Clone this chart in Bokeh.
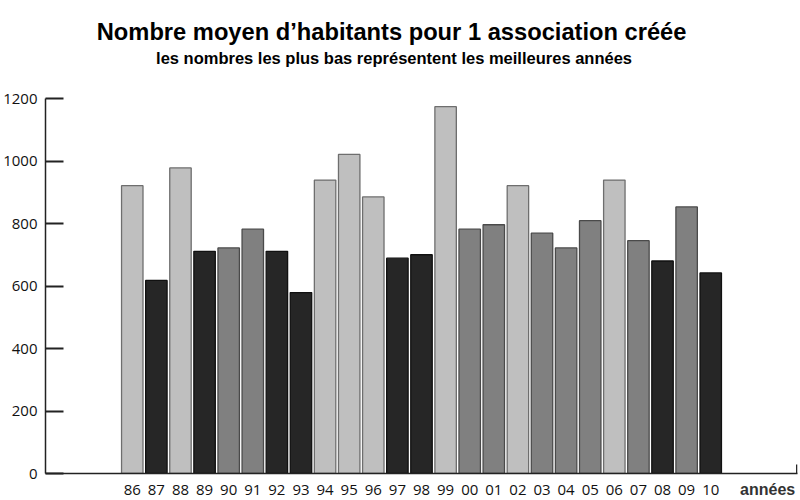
from bokeh.plotting import figure
from bokeh.models import Range1d, FactorRange, FixedTicker, Label, ColumnDataSource
from bokeh.transform import factor_cmap
from bokeh.embed import file_html
from bokeh.resources import INLINE

# ---- data ----
annees = ["86", "87", "88", "89", "90", "91", "92", "93", "94", "95", "96", "97", "98",
          "99", "00", "01", "02", "03", "04", "05", "06", "07", "08", "09", "10"]
habitants = [921, 618, 978, 711, 722, 782, 711, 579, 939, 1021, 885, 689, 700,
             1174, 782, 796, 921, 769, 722, 809, 939, 745, 680, 853, 642]
niveau = ["haut", "bas", "haut", "bas", "moyen", "moyen", "bas", "bas", "haut", "haut",
          "haut", "bas", "bas", "haut", "moyen", "moyen", "haut", "moyen", "moyen",
          "moyen", "haut", "moyen", "bas", "moyen", "bas"]
y_ticks = [0, 200, 400, 600, 800, 1000, 1200]

titre = "Nombre moyen d\u2019habitants pour 1 association créée"
sous_titre = "les nombres les plus bas représentent les meilleures années"
titre_x = "années"

PAD = 3.1

src = ColumnDataSource(dict(annee=annees, val=habitants, niveau=niveau))

p = figure(width=800, height=500, output_backend="svg", toolbar_location=None,
           x_range=FactorRange(factors=annees, range_padding=PAD, range_padding_units="absolute"),
           y_range=Range1d(0, 1200),
           min_border_left=45, min_border_right=3, min_border_top=98, min_border_bottom=27)
p.title = None
p.outline_line_color = None
p.xgrid.grid_line_color = None
p.ygrid.grid_line_color = None
p.background_fill_color = "white"

p.vbar(x="annee", top="val", width=0.89, source=src,
       fill_color=factor_cmap("niveau", ["#bfbfbf", "#808080", "#262626"], ["haut", "moyen", "bas"]),
       line_color=factor_cmap("niveau", ["#6e6e6e", "#4a4a4a", "#111111"], ["haut", "moyen", "bas"]),
       line_width=1.3)

# y axis
ya = p.yaxis[0]
ya.ticker = FixedTicker(ticks=y_ticks)
ya.major_tick_in = 18
ya.major_tick_out = 0
ya.major_tick_line_width = 2
ya.major_tick_line_color = "#222222"
ya.minor_tick_line_color = None
ya.axis_line_color = "#222222"
ya.axis_line_width = 1.5
ya.major_label_text_font = "Open Sans"
ya.major_label_text_font_size = "15px"
ya.major_label_text_color = "#111111"
ya.major_label_standoff = 8

# x axis
xa = p.xaxis[0]
xa.major_tick_line_color = None
xa.minor_tick_line_color = None
xa.axis_line_color = "#222222"
xa.axis_line_width = 1.5
xa.major_label_text_font = "Open Sans"
xa.major_label_text_font_size = "15px"
xa.major_label_text_color = "#111111"
xa.major_label_standoff = 5

# small end tick at the right end of the x axis
x_end = len(annees) + PAD
p.segment(x0=[x_end - 0.03], x1=[x_end - 0.03], y0=[0], y1=[29], line_color="#222222", line_width=1.5)

# texts placed in the top side panel (not clipped), positioned with data coordinates
p.add_layout(Label(x=26.86, y=-51, text=titre_x,
                   text_align="center", text_baseline="middle",
                   text_font="Liberation Sans", text_font_style="bold", text_font_size="16px",
                   text_color="#333333"), "above")
p.add_layout(Label(x=11.36, y=1331, text=sous_titre,
                   text_align="center", text_baseline="middle",
                   text_font="Liberation Sans", text_font_style="bold", text_font_size="16.5px",
                   text_color="#000000"), "above")
p.add_layout(Label(x=11.26, y=1414, text=titre,
                   text_align="center", text_baseline="middle",
                   text_font="Liberation Sans", text_font_style="bold", text_font_size="23.7px",
                   text_color="#000000"), "above")

open("out.html", "w").write(file_html(p, INLINE))
